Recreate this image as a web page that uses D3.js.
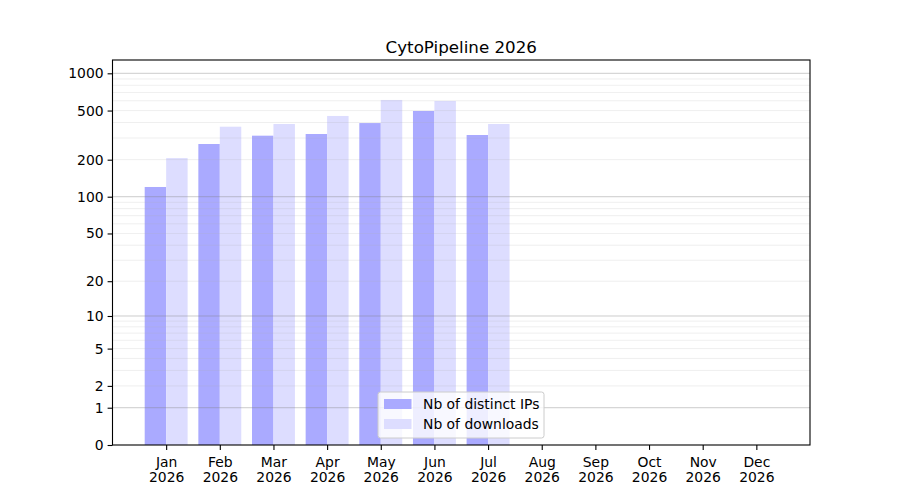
<!DOCTYPE html>
<html>
<head>
<meta charset="utf-8">
<script src="https://cdn.jsdelivr.net/npm/d3@7"></script>
<style>
  body { margin: 0; background: #fff; }
  text { font-family: "DejaVu Sans", sans-serif; fill: #000; }
</style>
</head>
<body>
<svg id="chart" width="900" height="500"></svg>
<script>
// data
var months = ["Jan", "Feb", "Mar", "Apr", "May", "Jun", "Jul", "Aug", "Sep", "Oct", "Nov", "Dec"];
var year = "2026";
var distinctIPs = [120, 268, 313, 323, 396, 496, 317];
var downloads = [206, 370, 389, 452, 609, 597, 389];
var yTicks = [0, 1, 2, 5, 10, 20, 50, 100, 200, 500, 1000];
var seriesNames = ["Nb of distinct IPs", "Nb of downloads"];
var seriesColors = ["#aaaaff", "#ddddff"];

// plot area (window.top is reserved, so use other names)
var svg = d3.select("#chart"),
    pLeft = 112.5, pRight = 810, pTop = 60, pBottom = 445;

var x = d3.scaleLinear().domain([-1, 12]).range([pLeft, pRight]);
var y = d3.scaleSymlog().constant(1).domain([0, 1281]).range([pBottom, pTop]);
var barW = 0.4;

// bars
[distinctIPs, downloads].forEach(function (vals, s) {
  svg.append("g").selectAll("rect")
    .data(vals)
    .enter().append("rect")
    .attr("x", function (d, i) { return x(i - barW + s * barW); })
    .attr("width", x(barW) - x(0))
    .attr("y", function (d) { return y(d); })
    .attr("height", function (d) { return y(0) - y(d); })
    .attr("fill", seriesColors[s]);
});

// grid (drawn above bars, like matplotlib)
var majors = [1, 10, 100, 1000];
var minors = [];
majors.forEach(function (p) {
  for (var m = 2; m <= 9; m++) minors.push(m * p);
});
minors = minors.filter(function (v) { return y(v) > pTop; });

svg.append("g").selectAll("line")
  .data(minors)
  .enter().append("line")
  .attr("x1", pLeft).attr("x2", pRight)
  .attr("y1", function (d) { return y(d); })
  .attr("y2", function (d) { return y(d); })
  .attr("stroke", "#b0b0b0").attr("stroke-opacity", 0.25)
  .attr("stroke-width", 0.8);

svg.append("g").selectAll("line")
  .data(majors)
  .enter().append("line")
  .attr("x1", pLeft).attr("x2", pRight)
  .attr("y1", function (d) { return y(d); })
  .attr("y2", function (d) { return y(d); })
  .attr("stroke", "#808080").attr("stroke-opacity", 0.5)
  .attr("stroke-width", 0.8);

// y axis
var yAxis = d3.axisLeft(y)
  .tickValues(yTicks)
  .tickFormat(d3.format("d"))
  .tickSize(4.9).tickPadding(4);
var gy = svg.append("g").attr("transform", "translate(" + pLeft + ",0)").call(yAxis);
gy.select(".domain").remove();
gy.selectAll("text").style("font-size", "13.9px").attr("font-family", "DejaVu Sans");
gy.selectAll("line").attr("stroke-width", 1.1);

// x axis
var xAxis = d3.axisBottom(x)
  .tickValues(d3.range(months.length))
  .tickFormat("")
  .tickSize(4.9);
var gx = svg.append("g").attr("transform", "translate(0," + pBottom + ")").call(xAxis);
gx.select(".domain").remove();
gx.selectAll("line").attr("stroke-width", 1.1);
gx.selectAll(".tick").each(function (d) {
  var t = d3.select(this).append("text")
    .attr("text-anchor", "middle")
    .attr("font-family", "DejaVu Sans")
    .style("font-size", "13.9px");
  t.append("tspan").attr("x", 0).attr("y", 21.5).text(months[d]);
  t.append("tspan").attr("x", 0).attr("y", 37).text(year);
});

// frame
svg.append("rect")
  .attr("x", pLeft).attr("y", pTop)
  .attr("width", pRight - pLeft).attr("height", pBottom - pTop)
  .attr("fill", "none").attr("stroke", "#000").attr("stroke-width", 1.1);

// title
svg.append("text")
  .attr("x", (pLeft + pRight) / 2).attr("y", 52.5)
  .attr("text-anchor", "middle")
  .style("font-size", "16.7px")
  .text("CytoPipeline 2026");

// legend
var lg = svg.append("g").attr("transform", "translate(378,392)");
lg.append("rect")
  .attr("width", 166).attr("height", 46).attr("rx", 2.5)
  .attr("fill", "#fff").attr("fill-opacity", 0.8)
  .attr("stroke", "#cccccc").attr("stroke-width", 1);
seriesNames.forEach(function (name, i) {
  lg.append("rect")
    .attr("x", 6).attr("y", 7 + i * 20)
    .attr("width", 27.5).attr("height", 10)
    .attr("fill", seriesColors[i]);
  lg.append("text")
    .attr("x", 45).attr("y", 17 + i * 20)
    .style("font-size", "13.9px")
    .text(name);
});
</script>
</body>
</html>
